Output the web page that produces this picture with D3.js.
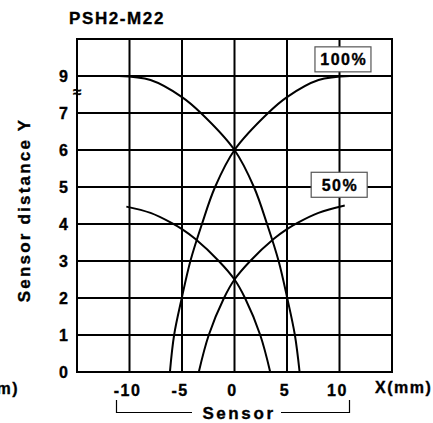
<!DOCTYPE html>
<html><head><meta charset="utf-8">
<script src="https://cdn.jsdelivr.net/npm/d3@7"></script>
<style>
body{margin:0;background:#fff}
svg{display:block}
text{font-family:"Liberation Sans",Arial,sans-serif;font-weight:bold;fill:#000;stroke:#000;stroke-width:0.35px}
</style>
</head><body>
<svg id="c" width="433" height="423"></svg>
<script>
// ---- data ----
const title = "PSH2-M22";
const xTicks = [-10, -5, 0, 5, 10];
const yTicks = [0, 1, 2, 3, 4, 5, 6, 7, 9];
const yTitle = "Sensor distance Y";
const xTitle = "Sensor";
const xUnit = "X(mm)";
const yUnit = "(mm)";

// 100% curves
const x100Down = [-11, -8, -5, -3.2, 0, 1.85, 3.1, 4.2, 5.02, 5.75, 6.2];
const y100Down = [9, 8.78, 7.86, 7, 6, 5, 4, 3, 2, 1, 0];
const x100Up   = [-6.15, -5.75, -5.02, -4.2, -3.1, -1.85, 0, 3.2, 5, 8, 11];
const y100Up   = [0, 1, 2, 3, 4, 5, 6, 7, 7.86, 8.78, 9];
// 50% curves
const x50Down = [-10.3, -8, -6, -5, -3.75, -1.5, 0, 1.0, 2.45, 3.4];
const y50Down = [4.47, 4.3, 4.03, 3.86, 3.6, 3.0, 2.5, 2, 1, 0];
const x50Up   = [-3.4, -2.45, -1.0, 0, 1.5, 3.75, 5, 6, 8, 10.5];
const y50Up   = [0, 1, 2, 2.5, 3.0, 3.6, 3.86, 4.03, 4.3, 4.5];

const labels = ["100%", "50%"];

// ---- drawing ----
const svg = d3.select("#c");
const x = d3.scaleLinear().domain([-15, 15]).range([77, 392]);
const y = d3.scaleLinear().domain([0, 7, 9, 10]).range([372, 113, 76, 39]);

const g = svg.append("g");
// grid
const xLines = [-15, ...xTicks, 15];
const yLines = [...yTicks, 10];
g.selectAll("line.v").data(xLines).join("line")
  .attr("x1", d => x(d)).attr("x2", d => x(d))
  .attr("y1", y(10) - 1).attr("y2", y(0) + 1)
  .attr("stroke", "#000").attr("stroke-width", 2);
g.selectAll("line.h").data(yLines).join("line")
  .attr("y1", d => y(d)).attr("y2", d => y(d))
  .attr("x1", x(-15) - 1).attr("x2", x(15) + 1)
  .attr("stroke", "#000").attr("stroke-width", 2);

// curves
const line = d3.line().x(d => x(d[0])).y(d => y(d[1])).curve(d3.curveCatmullRom.alpha(0.5));
const curves = [
  d3.zip(x100Down, y100Down), d3.zip(x100Up, y100Up),
  d3.zip(x50Down, y50Down), d3.zip(x50Up, y50Up)
];
g.selectAll("path.curve").data(curves).join("path")
  .attr("d", line).attr("fill", "none")
  .attr("stroke", "#000").attr("stroke-width", 2);

// break mark
svg.append("text").attr("x", x(-15)).attr("y", 97)
  .attr("text-anchor", "middle").style("font-size", "15px")
  .text("≈");

// y tick labels
svg.selectAll("text.yt").data(yTicks).join("text")
  .attr("x", 69.5).attr("y", d => y(d) + 6)
  .attr("text-anchor", "end")
  .style("font-size", "16px").style("letter-spacing", "1.5px")
  .text(d => d);

// x tick labels
svg.selectAll("text.xt").data(xTicks).join("text")
  .attr("x", d => x(d) - 2).attr("y", 396)
  .attr("text-anchor", "middle")
  .style("font-size", "16px").style("letter-spacing", "1.5px")
  .text(d => d);

// title
svg.append("text").attr("x", 117).attr("y", 24).attr("text-anchor", "middle")
  .style("font-size", "17px").style("letter-spacing", "1.6px").text(title);

// y title
svg.append("text").attr("transform", "translate(29.5,210) rotate(-90)")
  .attr("text-anchor", "middle")
  .style("font-size", "17px").style("letter-spacing", "2.2px").text(yTitle);

// units
svg.append("text").attr("x", 375).attr("y", 393)
  .style("font-size", "16px").style("letter-spacing", "1.5px").text(xUnit);
svg.append("text").attr("x", 19).attr("y", 394).attr("text-anchor", "end")
  .style("font-size", "16px").style("letter-spacing", "1.5px").text(yUnit);

// sensor bracket
const bx0 = x(-10) - 13, bx1 = x(10) + 10;
svg.append("path")
  .attr("d", `M${bx0},400 V412.5 H192 M281,412.5 H${bx1} V400`)
  .attr("fill", "none").attr("stroke", "#000").attr("stroke-width", 1.2);
svg.append("text").attr("x", 239).attr("y", 419).attr("text-anchor", "middle")
  .style("font-size", "17px").style("letter-spacing", "2.6px").text(xTitle);

// curve labels
const labPos = [[10.33, 9.45], [9.97, 5.06]];
labels.forEach((t, i) => {
  const cx = x(labPos[i][0]), cy = y(labPos[i][1]);
  const w = 56, h = 25;
  svg.append("rect").attr("x", cx - w / 2).attr("y", cy - h / 2)
    .attr("width", w).attr("height", h)
    .attr("fill", "#fff").attr("stroke", "#555").attr("stroke-width", 1.2);
  svg.append("text").attr("x", cx + 0.8).attr("y", cy + 6)
    .attr("text-anchor", "middle")
    .style("font-size", "16px").style("letter-spacing", "1.5px").text(t);
});
</script>
</body></html>
